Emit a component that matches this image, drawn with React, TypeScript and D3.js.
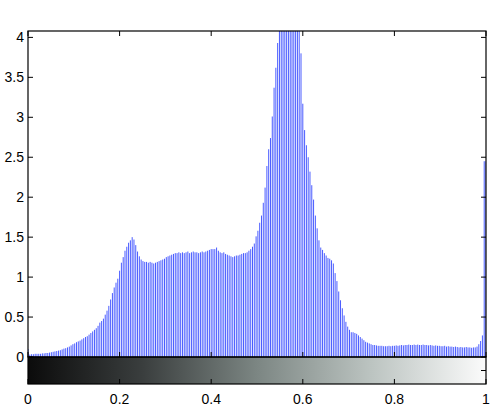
import React from 'react'
import * as d3 from 'd3'

// histogram counts (x1e4), 256 bins over [0, 1]
const counts = [
  0.10, 0.03, 0.035, 0.035, 0.04, 0.04, 0.04, 0.04, 0.045, 0.045,
  0.05, 0.05, 0.055, 0.06, 0.065, 0.07, 0.075, 0.08, 0.085, 0.095,
  0.105, 0.11, 0.12, 0.13, 0.145, 0.16, 0.17, 0.185, 0.195, 0.205,
  0.22, 0.235, 0.25, 0.26, 0.28, 0.30, 0.32, 0.34, 0.36, 0.39,
  0.43, 0.45, 0.48, 0.53, 0.58, 0.64, 0.72, 0.80, 0.87, 0.93,
  0.98, 1.08, 1.18, 1.25, 1.33, 1.38, 1.43, 1.46, 1.50, 1.47,
  1.40, 1.32, 1.26, 1.22, 1.20, 1.19, 1.19, 1.18, 1.19, 1.18,
  1.17, 1.18, 1.19, 1.20, 1.21, 1.22, 1.23, 1.25, 1.26, 1.27,
  1.28, 1.29, 1.30, 1.30, 1.31, 1.30, 1.31, 1.30, 1.31, 1.32,
  1.30, 1.31, 1.32, 1.31, 1.31, 1.30, 1.31, 1.32, 1.31, 1.32,
  1.33, 1.34, 1.35, 1.35, 1.35, 1.37, 1.33, 1.31, 1.30, 1.31,
  1.29, 1.28, 1.27, 1.26, 1.25, 1.26, 1.27, 1.27, 1.28, 1.29,
  1.30, 1.30, 1.31, 1.33, 1.35, 1.38, 1.42, 1.51, 1.58, 1.68,
  1.77, 1.93, 2.12, 2.39, 2.60, 2.74, 3.01, 3.37, 3.62, 3.93,
  4.3, 4.6, 4.9, 5.1, 5.3, 5.4, 5.4, 5.3, 5.1, 4.8,
  4.5, 4.2, 3.80, 3.17, 2.84, 2.65, 2.50, 2.32, 2.15, 1.97,
  1.77, 1.61, 1.46, 1.37, 1.34, 1.30, 1.27, 1.24, 1.23, 1.21,
  1.17, 1.05, 0.95, 0.82, 0.71, 0.61, 0.52, 0.44, 0.38, 0.34,
  0.31, 0.31, 0.30, 0.29, 0.27, 0.25, 0.23, 0.21, 0.19, 0.18,
  0.17, 0.16, 0.15, 0.15, 0.145, 0.14, 0.14, 0.14, 0.135, 0.135,
  0.135, 0.14, 0.135, 0.14, 0.14, 0.145, 0.14, 0.145, 0.15, 0.145,
  0.15, 0.15, 0.155, 0.15, 0.15, 0.155, 0.15, 0.155, 0.15, 0.15,
  0.155, 0.15, 0.15, 0.145, 0.15, 0.145, 0.14, 0.145, 0.14, 0.14,
  0.135, 0.135, 0.14, 0.13, 0.135, 0.13, 0.13, 0.125, 0.13, 0.125,
  0.12, 0.125, 0.12, 0.12, 0.125, 0.12, 0.12, 0.115, 0.12, 0.12,
  0.13, 0.16, 0.20, 0.27, 2.45, 2.45,
]

const yTicks = [0, 0.5, 1, 1.5, 2, 2.5, 3, 3.5, 4]
const xTicks = [0, 0.2, 0.4, 0.6, 0.8, 1]
const yMax = 4.08

const W = 496
const H = 408
const left = 28
const right = 486
const top = 31
const plotBottom = 357
const barBottom = 384

export default function App() {
  const x = d3.scaleLinear().domain([0, 1]).range([left, right])
  const y = d3.scaleLinear().domain([0, yMax]).range([plotBottom, top])
  const font = { fontFamily: '"Liberation Sans", Arial, sans-serif', fontSize: 14 }

  return (
    <svg width={W} height={H} style={{ position: 'absolute', left: 0, top: 0, background: '#fff' }}>
      <defs>
        <clipPath id="plot-clip">
          <rect x={left} y={top} width={right - left} height={plotBottom - top} />
        </clipPath>
        <linearGradient id="gray-map" x1="0" x2="1" y1="0" y2="0">
          <stop offset="0%" stopColor="#0b0b0b" />
          <stop offset="25%" stopColor="#3a3e3e" />
          <stop offset="50%" stopColor="#7c8683" />
          <stop offset="75%" stopColor="#bcc4c1" />
          <stop offset="100%" stopColor="#fbfbfb" />
        </linearGradient>
      </defs>

      {/* stems */}
      <g clipPath="url(#plot-clip)">
        {counts.map((v, i) => (
          <line
            key={i}
            x1={x(i / 255)}
            x2={x(i / 255)}
            y1={y(0)}
            y2={y(Math.min(v, yMax + 0.1))}
            stroke="#4a5cff"
            strokeWidth={1}
          />
        ))}
      </g>

      {/* colorbar */}
      <rect x={left} y={plotBottom} width={right - left} height={barBottom - plotBottom} fill="url(#gray-map)" />

      {/* axes box */}
      <rect x={left} y={top} width={right - left} height={plotBottom - top} fill="none" stroke="#000" strokeWidth={1.2} />
      <rect x={left} y={plotBottom} width={right - left} height={barBottom - plotBottom} fill="none" stroke="#000" strokeWidth={1.2} />

      {/* y ticks */}
      {yTicks.map(t => (
        <g key={t}>
          <line x1={left} x2={left + 5} y1={y(t)} y2={y(t)} stroke="#000" />
          <line x1={right} x2={right - 5} y1={y(t)} y2={y(t)} stroke="#000" />
          <text x={left - 4} y={y(t)} dy="0.35em" textAnchor="end" style={font} fill="#000">
            {d3.format('~g')(t)}
          </text>
        </g>
      ))}
      <line x1={right} x2={right - 5} y1={370.5} y2={370.5} stroke="#000" />

      {/* x ticks */}
      {xTicks.map(t => (
        <g key={t}>
          <line x1={x(t)} x2={x(t)} y1={top} y2={top + 5} stroke="#000" />
          <line x1={x(t)} x2={x(t)} y1={plotBottom} y2={plotBottom - 5} stroke="#000" />
          <line x1={x(t)} x2={x(t)} y1={barBottom} y2={barBottom - 5} stroke="#000" />
          <text x={x(t)} y={403.5} textAnchor="middle" style={font} fill="#000">
            {d3.format('~g')(t)}
          </text>
        </g>
      ))}
    </svg>
  )
}
